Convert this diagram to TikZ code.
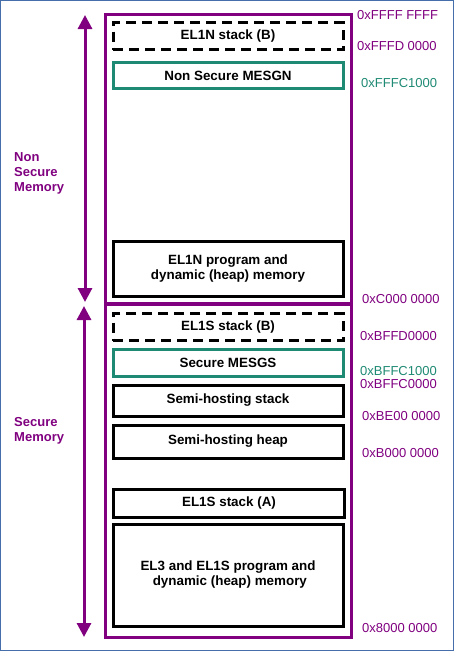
\documentclass[tikz,border=0pt]{standalone}
\usepackage{fontspec}
\setmainfont{Liberation Sans}
\usetikzlibrary{arrows.meta}
\definecolor{mpurple}{RGB}{128,0,128}
\definecolor{mgreen}{RGB}{30,138,116}
\definecolor{mframe}{RGB}{70,110,170}
\begin{document}
\begin{tikzpicture}[x=1pt,y=-1pt,
  region/.style={draw=mpurple,line width=3pt,minimum width=246pt,inner sep=0pt},
  box/.style={draw=black,line width=3pt,minimum width=230pt,inner sep=0pt,align=center,
    font=\fontsize{13.4}{15}\selectfont\bfseries},
  dbox/.style={box,dash pattern=on 10pt off 6pt},
  gbox/.style={box,draw=mgreen},
  addr/.style={anchor=west,inner sep=0pt,text=mpurple,font=\fontsize{13}{15}\selectfont},
  gaddr/.style={addr,text=mgreen},
  side/.style={anchor=west,inner sep=0pt,align=left,text=mpurple,font=\fontsize{13}{15}\selectfont\bfseries},
  span/.style={draw=mpurple,line width=3pt,{Triangle[width=14pt,length=14pt]}-{Triangle[width=14pt,length=14pt]}}]
\useasboundingbox (0,0) rectangle (454,651);
\fill[white] (0,0) rectangle (454,651);
\draw[mframe,line width=1pt] (0.5,0.5) rectangle (453.5,650.5);
% regions
\node[region,minimum height=289pt] (ns) at (228,158.5) {};
\node[region,minimum height=333pt] (sec) at (228,471) {};
% boxes
\node[dbox,minimum height=27pt] (el1nb) at (228,36) {EL1N stack (B)};
\node[gbox,minimum height=26pt] (mesgn) at (228,75.5) {Non Secure MESGN};
\node[box,minimum height=55pt] (el1np) at (228,268.5) {EL1N program and\\dynamic (heap) memory};
\node[dbox,minimum height=27pt] (el1sb) at (228,327) {EL1S stack (B)};
\node[gbox,minimum height=27pt] (mesgs) at (228,362.5) {Secure MESGS};
\node[box,minimum height=31pt] (shs) at (228,400.5) {Semi-hosting stack};
\node[box,minimum height=33pt] (shh) at (228,441.5) {Semi-hosting heap};
\node[box,minimum height=28pt,minimum width=231pt] (el1sa) at (229,503) {EL1S stack (A)};
\node[box,minimum height=102pt] (el3) at (228,575) {EL3 and EL1S program and\\\ dynamic (heap) memory};
% addresses
\node[addr] (a1) at (357,15) {0xFFFF FFFF};
\node[addr] (a2) at (357,46) {0xFFFD 0000};
\node[gaddr] (a3) at (361,83) {0xFFFC1000};
\node[addr] (a4) at (362,299) {0xC000 0000};
\node[addr] (a5) at (360,336) {0xBFFD0000};
\node[gaddr] (a6) at (360,371) {0xBFFC1000};
\node[addr] (a7) at (360,384) {0xBFFC0000};
\node[addr] (a8) at (362,416) {0xBE00 0000};
\node[addr] (a9) at (362,453) {0xB000 0000};
\node[addr] (a10) at (362,628) {0x8000 0000};
% side labels
\node[side] (nsl) at (14,173) {Non\\Secure\\Memory};
\node[side] (sl) at (14,430.5) {Secure\\Memory};
% spans
\coordinate (t1) at (85,15);
\coordinate (b1) at (85,302);
\coordinate (t2) at (84,306);
\coordinate (b2) at (84,637);
\draw[span] (t1) -- (b1);
\draw[span] (t2) -- (b2);
\end{tikzpicture}
\end{document}
